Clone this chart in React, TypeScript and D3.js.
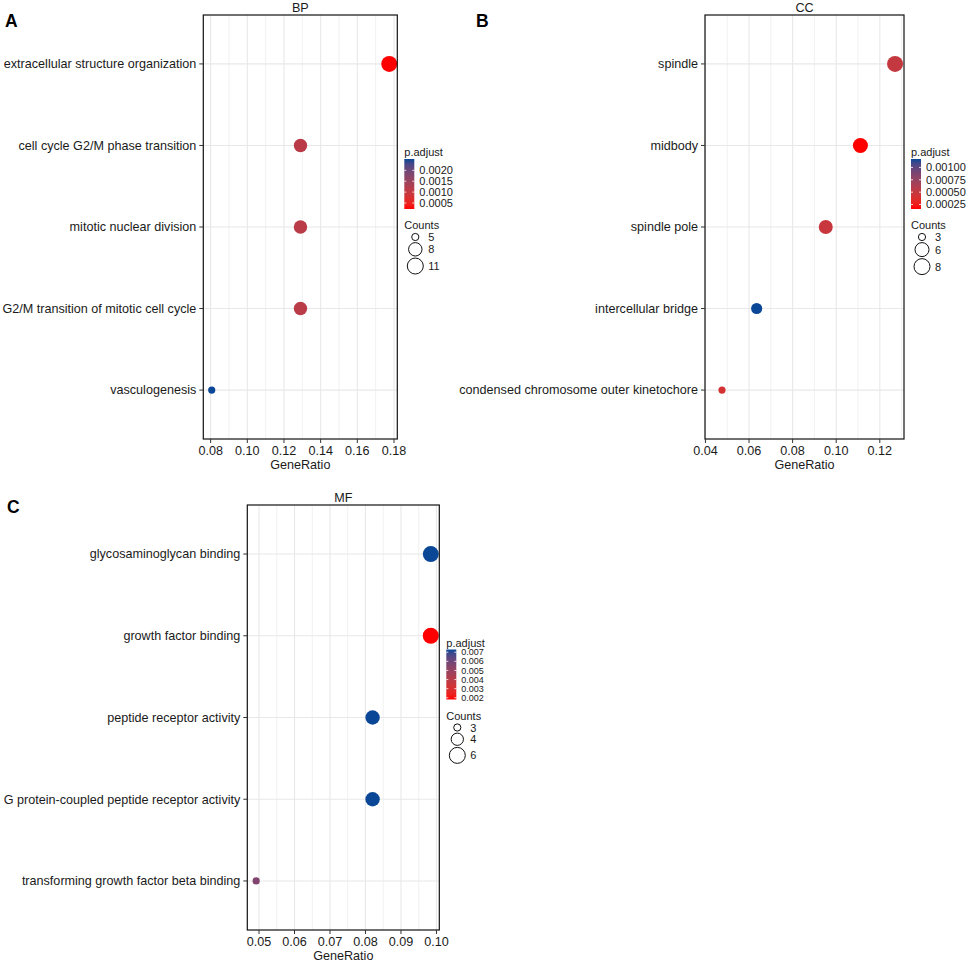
import React, { useEffect, useRef } from "react";
import * as d3 from "d3";

// ---- BP ----
const bpTerms = [
  "extracellular structure organization",
  "cell cycle G2/M phase transition",
  "mitotic nuclear division",
  "G2/M transition of mitotic cell cycle",
  "vasculogenesis",
];
const bpRatio = [0.1774, 0.129, 0.129, 0.129, 0.0806];
const bpCount = [11, 8, 8, 8, 5];
const bpPadj = [0.000225, 0.00112, 0.00114, 0.00113, 0.00252];
const bpRatioTicks = [0.08, 0.1, 0.12, 0.14, 0.16, 0.18];
const bpPadjTicks = [0.0005, 0.001, 0.0015, 0.002];
const bpPadjLabels = ["0.0005", "0.0010", "0.0015", "0.0020"];
const bpCountTicks = [5, 8, 11];

// ---- CC ----
const ccTerms = [
  "spindle",
  "midbody",
  "spindle pole",
  "intercellular bridge",
  "condensed chromosome outer kinetochore",
];
const ccRatio = [0.127, 0.1111, 0.0952, 0.0635, 0.0476];
const ccCount = [8, 7, 6, 4, 3];
const ccPadj = [0.0005, 0.00016, 0.00048, 0.00117, 0.0004];
const ccRatioTicks = [0.04, 0.06, 0.08, 0.1, 0.12];
const ccPadjTicks = [0.00025, 0.0005, 0.00075, 0.001];
const ccPadjLabels = ["0.00025", "0.00050", "0.00075", "0.00100"];
const ccCountTicks = [3, 6, 8];

// ---- MF ----
const mfTerms = [
  "glycosaminoglycan binding",
  "growth factor binding",
  "peptide receptor activity",
  "G protein-coupled peptide receptor activity",
  "transforming growth factor beta binding",
];
const mfRatio = [0.0984, 0.0984, 0.082, 0.082, 0.0492];
const mfCount = [6, 6, 5, 5, 3];
const mfPadj = [0.0073, 0.00181, 0.0073, 0.0073, 0.0056];
const mfRatioTicks = [0.05, 0.06, 0.07, 0.08, 0.09, 0.1];
const mfPadjTicks = [0.002, 0.003, 0.004, 0.005, 0.006, 0.007];
const mfPadjLabels = ["0.002", "0.003", "0.004", "0.005", "0.006", "0.007"];
const mfCountTicks = [3, 4, 6];

const FONT = "'Liberation Sans', Arial, sans-serif";
const LOW = "#ff0000";
const HIGH = "#0a4796";
const FS = 12.6;

export default function App() {
  const ref = useRef<SVGSVGElement>(null);

  useEffect(() => {
    const svg = d3.select(ref.current);
    svg.selectAll("*").remove();

    const panels = [
      {
        letter: "A", lx: 5, ly: 27, title: "BP",
        box: { x0: 203.3, x1: 397.3, y0: 15, y1: 439 },
        xDomain: [0.076, 0.1818],
        terms: bpTerms, ratio: bpRatio, count: bpCount, padj: bpPadj,
        xTicks: bpRatioTicks, xFmt: d3.format(".2f"),
        pTicks: bpPadjTicks, pLabels: bpPadjLabels, cTicks: bpCountTicks, legFs: 11,
      },
      {
        letter: "B", lx: 476, ly: 27, title: "CC",
        box: { x0: 705, x1: 904, y0: 15, y1: 439 },
        xDomain: [0.0398, 0.1311],
        terms: ccTerms, ratio: ccRatio, count: ccCount, padj: ccPadj,
        xTicks: ccRatioTicks, xFmt: d3.format(".2f"),
        pTicks: ccPadjTicks, pLabels: ccPadjLabels, cTicks: ccCountTicks, legFs: 11,
      },
      {
        letter: "C", lx: 7, ly: 513, title: "MF",
        box: { x0: 247.3, x1: 439.3, y0: 505, y1: 930 },
        xDomain: [0.0467, 0.1008],
        terms: mfTerms, ratio: mfRatio, count: mfCount, padj: mfPadj,
        xTicks: mfRatioTicks, xFmt: d3.format(".2f"),
        pTicks: mfPadjTicks, pLabels: mfPadjLabels, cTicks: mfCountTicks, legFs: 9,
      },
    ];

    panels.forEach((p, pi) => {
      const g = svg.append("g");
      const { x0, x1, y0, y1 } = p.box;

      const x = d3.scaleLinear().domain(p.xDomain).range([x0, x1]);
      const y = d3.scalePoint<string>().domain(p.terms).range([y0, y1]).padding(0.6);

      const pExt = d3.extent(p.padj) as [number, number];
      const color = d3
        .scaleSequential(d3.interpolateLab(LOW, HIGH))
        .domain(pExt);

      const cExt = d3.extent(p.count) as [number, number];
      const t = d3.scaleLinear().domain(cExt).range([0, 1]);
      const rad = (v: number) => 3.6 + 4.4 * Math.sqrt(Math.max(0, t(v)));

      // panel letter + strip title
      g.append("text")
        .attr("x", p.lx).attr("y", p.ly)
        .attr("font-family", FONT).attr("font-size", 17.5).attr("font-weight", "bold")
        .text(p.letter);
      g.append("text")
        .attr("x", (x0 + x1) / 2).attr("y", y0 - 3.5)
        .attr("text-anchor", "middle")
        .attr("font-family", FONT).attr("font-size", FS).attr("fill", "#1a1a1a")
        .text(p.title);

      // minor grid (midpoints between majors)
      const step = p.xTicks[1] - p.xTicks[0];
      const minors: number[] = [];
      p.xTicks.forEach((v) => {
        [v - step / 2, v + step / 2].forEach((m) => {
          if (m > p.xDomain[0] && m < p.xDomain[1] && !minors.some((q) => Math.abs(q - m) < 1e-9)) minors.push(m);
        });
      });
      g.selectAll(".minor").data(minors).enter().append("line")
        .attr("x1", (d) => x(d)).attr("x2", (d) => x(d))
        .attr("y1", y0).attr("y2", y1)
        .attr("stroke", "#efefef").attr("stroke-width", 0.9);
      g.selectAll(".major").data(p.xTicks).enter().append("line")
        .attr("x1", (d) => x(d)).attr("x2", (d) => x(d))
        .attr("y1", y0).attr("y2", y1)
        .attr("stroke", "#e8e8e8").attr("stroke-width", 1.1);
      g.selectAll(".hgrid").data(p.terms).enter().append("line")
        .attr("x1", x0).attr("x2", x1)
        .attr("y1", (d) => y(d)!).attr("y2", (d) => y(d)!)
        .attr("stroke", "#e8e8e8").attr("stroke-width", 1.1);

      // points
      g.selectAll(".dot").data(p.terms).enter().append("circle")
        .attr("cx", (_, i) => x(p.ratio[i]))
        .attr("cy", (d) => y(d)!)
        .attr("r", (_, i) => rad(p.count[i]))
        .attr("fill", (_, i) => color(p.padj[i]));

      // border
      g.append("rect")
        .attr("x", x0).attr("y", y0)
        .attr("width", x1 - x0).attr("height", y1 - y0)
        .attr("fill", "none").attr("stroke", "#111").attr("stroke-width", 1.2);

      // y axis
      p.terms.forEach((d) => {
        g.append("line")
          .attr("x1", x0 - 4).attr("x2", x0)
          .attr("y1", y(d)!).attr("y2", y(d)!)
          .attr("stroke", "#333").attr("stroke-width", 1);
        g.append("text")
          .attr("x", x0 - 7).attr("y", y(d)! + 4.3)
          .attr("text-anchor", "end")
          .attr("font-family", FONT).attr("font-size", FS).attr("fill", "#1a1a1a")
          .text(d);
      });

      // x axis
      p.xTicks.forEach((v) => {
        g.append("line")
          .attr("x1", x(v)).attr("x2", x(v))
          .attr("y1", y1).attr("y2", y1 + 4)
          .attr("stroke", "#333").attr("stroke-width", 1);
        g.append("text")
          .attr("x", x(v)).attr("y", y1 + 16)
          .attr("text-anchor", "middle")
          .attr("font-family", FONT).attr("font-size", FS).attr("fill", "#1a1a1a")
          .text(p.xFmt(v));
      });
      g.append("text")
        .attr("x", (x0 + x1) / 2).attr("y", y1 + 30)
        .attr("text-anchor", "middle")
        .attr("font-family", FONT).attr("font-size", FS).attr("fill", "#1a1a1a")
        .text("GeneRatio");

      // legend: p.adjust colourbar
      const lx = x1 + 7;
      const ly = (y0 + y1) / 2 - 71;
      g.append("text")
        .attr("x", lx).attr("y", ly)
        .attr("font-family", FONT).attr("font-size", 11).attr("fill", "#1a1a1a")
        .text("p.adjust");
      const barTop = ly + 3, barBot = ly + 53, barW = 10;
      const gradId = "grad" + pi;
      const grad = svg.append("defs").append("linearGradient")
        .attr("id", gradId).attr("x1", 0).attr("x2", 0).attr("y1", 1).attr("y2", 0);
      d3.range(0, 1.0001, 0.1).forEach((s) => {
        grad.append("stop")
          .attr("offset", s)
          .attr("stop-color", color(pExt[0] + s * (pExt[1] - pExt[0])));
      });
      g.append("rect")
        .attr("x", lx).attr("y", barTop)
        .attr("width", barW).attr("height", barBot - barTop)
        .attr("fill", `url(#${gradId})`);
      const py = d3.scaleLinear().domain(pExt).range([barBot, barTop]);
      p.pTicks.forEach((v, i) => {
        [lx, lx + barW - 2].forEach((tx) => {
          g.append("line")
            .attr("x1", tx).attr("x2", tx + 2)
            .attr("y1", py(v)).attr("y2", py(v))
            .attr("stroke", "white").attr("stroke-width", 0.8);
        });
        g.append("text")
          .attr("x", lx + barW + 5).attr("y", py(v) + p.legFs * 0.35)
          .attr("font-family", FONT).attr("font-size", p.legFs).attr("fill", "#1a1a1a")
          .text(p.pLabels[i]);
      });

      // legend: Counts
      const cy0 = barBot + 20;
      g.append("text")
        .attr("x", lx).attr("y", cy0)
        .attr("font-family", FONT).attr("font-size", 11).attr("fill", "#1a1a1a")
        .text("Counts");
      let cy = cy0 + 8;
      let prevR = 0;
      p.cTicks.forEach((v, i) => {
        const r = rad(v);
        if (i > 0) cy += prevR + r + 2;
        g.append("circle")
          .attr("cx", lx + 11).attr("cy", cy).attr("r", r)
          .attr("fill", "none").attr("stroke", "#111").attr("stroke-width", 1);
        g.append("text")
          .attr("x", lx + 24).attr("y", cy + 4)
          .attr("font-family", FONT).attr("font-size", 11).attr("fill", "#1a1a1a")
          .text(String(v));
        prevR = r;
      });
    });
  }, []);

  return (
    <svg
      ref={ref}
      width={969}
      height={963}
      style={{ position: "absolute", left: 0, top: 0, background: "white" }}
    />
  );
}
